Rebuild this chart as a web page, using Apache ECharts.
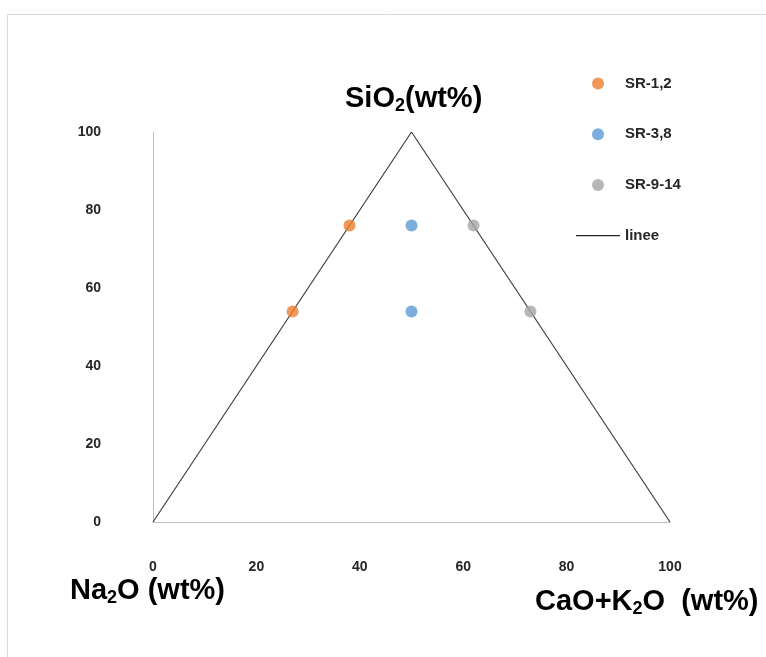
<!DOCTYPE html>
<html><head><meta charset="utf-8">
<script src="https://cdn.jsdelivr.net/npm/echarts@6/dist/echarts.min.js"></script>
<style>html,body{margin:0;padding:0;background:#fff}#c{width:766px;height:657px}</style>
</head><body><div id="c"></div>
<script>
const seriesNames = ['SR-1,2', 'SR-3,8', 'SR-9-14', 'linee'];
const sr12 = [[27, 54], [38, 76]];
const sr38 = [[50, 76], [50, 54]];
const sr914 = [[62, 76], [73, 54]];
const linee = [[0, 0], [50, 100], [100, 0]];
const xTicks = [0, 20, 40, 60, 80, 100];
const yTicks = [0, 20, 40, 60, 80, 100];
const colors = ['#ED7D31', '#5B9BD5', '#A5A5A5', '#404040'];

const FONT = '"Liberation Sans", Arial, sans-serif';
const chart = echarts.init(document.getElementById('c'));
const nameStyle = {
  a: {fontSize: 29, fontWeight: 'bold', fontFamily: FONT, color: '#000', lineHeight: 34},
  s: {fontSize: 18, fontWeight: 'bold', fontFamily: FONT, color: '#000', lineHeight: 18, verticalAlign: 'bottom'}
};
chart.setOption({
  animation: false,
  backgroundColor: '#fff',
  color: colors,
  grid: {left: 153, right: 96, top: 132, bottom: 135},
  xAxis: {
    type: 'value', min: xTicks[0], max: xTicks[xTicks.length - 1], interval: 20,
    axisLine: {show: true, lineStyle: {color: '#bfbfbf', width: 1}},
    axisTick: {show: false}, splitLine: {show: false},
    axisLabel: {margin: 38, fontSize: 14, fontWeight: 'bold', fontFamily: FONT, color: '#262626'}
  },
  yAxis: {
    type: 'value', min: yTicks[0], max: yTicks[yTicks.length - 1], interval: 20,
    axisLine: {show: true, lineStyle: {color: '#bfbfbf', width: 1}},
    axisTick: {show: false}, splitLine: {show: false},
    axisLabel: {margin: 52, fontSize: 14, fontWeight: 'bold', fontFamily: FONT, color: '#262626'}
  },
  legend: {
    orient: 'vertical', left: 571, top: 71, itemGap: 35.7, itemWidth: 44, itemHeight: 12,
    textStyle: {fontSize: 15, fontWeight: 'bold', fontFamily: FONT, color: '#262626'},
    data: [
      {name: seriesNames[0], icon: 'circle'},
      {name: seriesNames[1], icon: 'circle'},
      {name: seriesNames[2], icon: 'circle'},
      {name: seriesNames[3], icon: 'path://M0,0L44,0L44,1.4L0,1.4Z', itemStyle: {color: '#262626'}}
    ]
  },
  series: [
    {name: seriesNames[0], type: 'scatter', data: sr12, symbolSize: 12, z: 3},
    {name: seriesNames[1], type: 'scatter', data: sr38, symbolSize: 12, z: 3},
    {name: seriesNames[2], type: 'scatter', data: sr914, symbolSize: 12, z: 3},
    {name: seriesNames[3], type: 'line', data: linee, symbol: 'none', showSymbol: false,
     lineStyle: {color: '#404040', width: 1.2}, z: 2}
  ],
  graphic: [
    {type: 'rect', shape: {x: 7.5, y: 14.5, width: 800, height: 700}, style: {fill: 'none', stroke: '#d9d9d9', lineWidth: 1}, silent: true},
    {type: 'text', left: 345, top: 84, style: {rich: nameStyle, text: '{a|SiO}{s|2}{a|(wt%)}'}},
    {type: 'text', left: 70, top: 576, style: {rich: nameStyle, text: '{a|Na}{s|2}{a|O (wt%)}'}},
    {type: 'text', left: 535, top: 587, style: {rich: nameStyle, text: '{a|CaO+K}{s|2}{a|O  (wt%)}'}}
  ]
});
</script></body></html>
